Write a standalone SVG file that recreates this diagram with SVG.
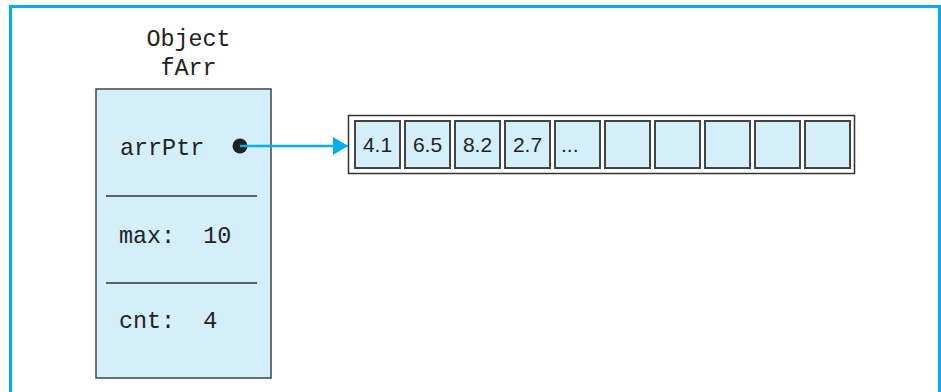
<svg xmlns="http://www.w3.org/2000/svg" width="941" height="392" viewBox="0 0 941 392">
<defs>
<style>
.mono{font-family:"Liberation Mono","Courier New",monospace;font-size:23.4px;fill:#222;white-space:pre}
.sans{font-family:"Liberation Sans",Arial,sans-serif;font-size:21px;fill:#222}
.cell{fill:#D4EEFA;stroke:#444;stroke-width:2}
.div{stroke:#333;stroke-width:1.5}
</style>
<marker id="ah" markerWidth="16" markerHeight="18" refX="15" refY="9" orient="auto" markerUnits="userSpaceOnUse">
<path d="M0,0 L15,9 L0,18 Z" fill="#00AEEF"/>
</marker>
</defs>
<rect width="941" height="392" fill="#fff"/>
<path d="M10.5,392 V6.5 H939.5 V392" fill="none" stroke="#00AEEF" stroke-width="3"/>
<g id="object-fArr">
<text class="mono" x="188.5" y="46" text-anchor="middle">Object</text>
<text class="mono" x="188.5" y="75" text-anchor="middle">fArr</text>
<rect x="96" y="89" width="175" height="289" fill="#D4EEFA" stroke="#444" stroke-width="1.5"/>
<text class="mono" x="120" y="155">arrPtr</text>
<line class="div" x1="106" y1="196" x2="257" y2="196"/>
<text class="mono" x="119" y="243" xml:space="preserve">max:  10</text>
<line class="div" x1="106" y1="283" x2="257" y2="283"/>
<text class="mono" x="119" y="328" xml:space="preserve">cnt:  4</text>
<circle cx="240" cy="146" r="7.5" fill="#222"/>
</g>
<g id="array">
<rect x="348.5" y="115.5" width="506" height="58" fill="#fff" stroke="#333" stroke-width="1.5"/>
<rect class="cell" x="355" y="121" width="45" height="47"/>
<rect class="cell" x="405" y="121" width="45" height="47"/>
<rect class="cell" x="455" y="121" width="45" height="47"/>
<rect class="cell" x="505" y="121" width="45" height="47"/>
<rect class="cell" x="555" y="121" width="45" height="47"/>
<rect class="cell" x="605" y="121" width="45" height="47"/>
<rect class="cell" x="655" y="121" width="45" height="47"/>
<rect class="cell" x="705" y="121" width="45" height="47"/>
<rect class="cell" x="755" y="121" width="45" height="47"/>
<rect class="cell" x="805" y="121" width="45" height="47"/>
<text class="sans" x="377.5" y="152" text-anchor="middle">4.1</text>
<text class="sans" x="427.5" y="152" text-anchor="middle">6.5</text>
<text class="sans" x="477.5" y="152" text-anchor="middle">8.2</text>
<text class="sans" x="527.5" y="152" text-anchor="middle">2.7</text>
<text class="sans" x="561" y="152">...</text>
</g>
<g id="connectors">
<line x1="240" y1="146" x2="348" y2="146" stroke="#00AEEF" stroke-width="2.5" marker-end="url(#ah)"/>
</g>
</svg>
